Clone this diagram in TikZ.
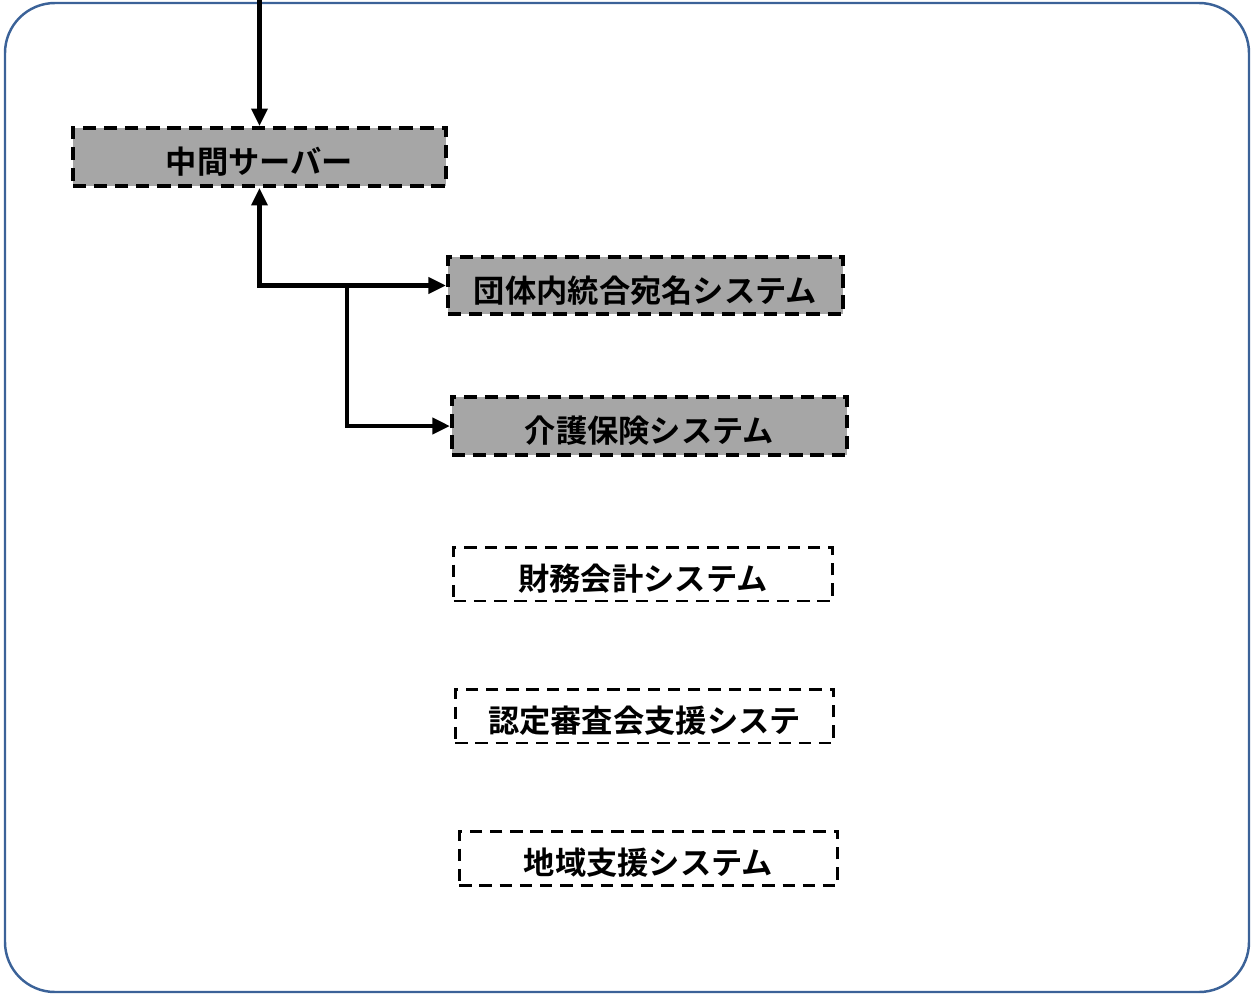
\documentclass[tikz,border=0pt]{standalone}
\usepackage{fontspec}
\newfontfamily\jpfont{Noto Sans CJK JP}[BoldFont={* Bold}]
\usepackage{tikz}
\usetikzlibrary {arrows.meta}
\definecolor{frameblue}{HTML}{3B6298}
\definecolor{boxgray}{HTML}{A6A6A6}
\tikzset{
    frame/.style={draw=frameblue, line width=1.4pt, rounded corners=1cm},
        base/.style={draw, rectangle, align=center, inner sep=0pt,
                     text height=21pt, text depth=2pt,
                     font=\jpfont\bfseries\fontsize{17.8}{20}\selectfont},
        sysg/.style={base, fill=boxgray, line width=2.4pt,
                     dash pattern=on 7.5pt off 4.5pt,
                     minimum width=7.9cm, minimum height=1.15cm},
        srv/.style={sysg, minimum width=7.46cm},
        sysw/.style={base, line width=1.7pt,
                     dash pattern=on 7pt off 4.5pt,
                     minimum width=7.57cm, minimum height=1.08cm},
        link/.style={-{Triangle[length=10pt, width=9pt]}, line width=2.4pt},
        dlink/.style={{Triangle[length=10pt, width=9pt]}-{Triangle[length=10pt, width=9pt]},
                      line width=2.4pt},
 }
\begin{document}
\begin{tikzpicture}[x=0.02cm, y=-0.02cm]
    \useasboundingbox (0,0) rectangle (1251,994);

    \draw[frame] (5,3) rectangle (1249,992);

    \node[srv] (mid) at (259.5,157) {中間サーバー};
    \node[sysg] (atena) at (645.5,285.5) {団体内統合宛名システム};
    \node[sysg] (kaigo) at (649.5,426) {介護保険システム};

    \node[sysw] (zaimu) at (643,574) {財務会計システム};
    \node[sysw] (nintei) at (644.5,716) {認定審査会支援システ};
    \node[sysw] (chiiki) at (648.5,858) {地域支援システム};

    \coordinate (in) at (259.5,0);
    \coordinate (br) at (347,286);

    \draw[link] (in) -- (mid.north);
    \draw[dlink] (mid.south) |- (atena.west);
    \draw[link] (br) |- (kaigo.west);

\end{tikzpicture}
\end{document}
